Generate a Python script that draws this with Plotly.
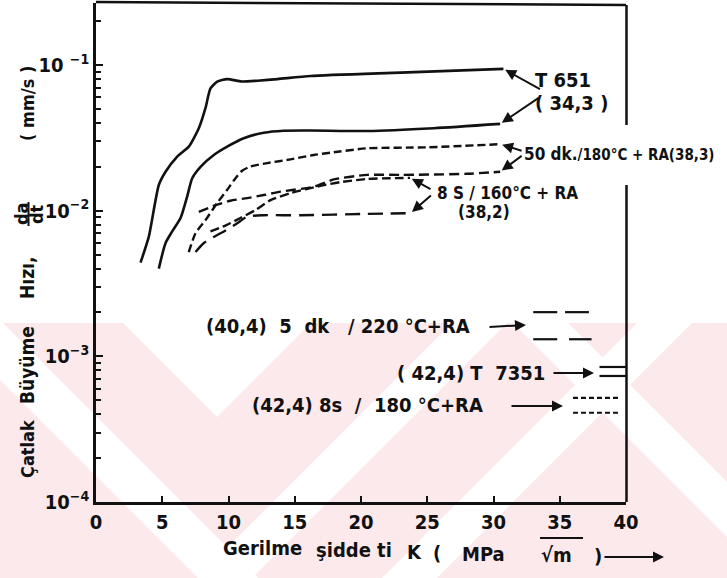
import numpy as np
import plotly.graph_objects as go

# Crack growth rate da/dt (mm/s) versus stress intensity K (MPa*sqrt(m))
k_t651_a = [3.36, 3.98, 4.74, 5.25, 6.13, 7.0, 7.76, 8.26, 8.64, 9.15, 9.9, 11.0, 12.2, 13.7, 16.2, 23.0, 30.75]
v_t651_a = [0.0044, 0.0066, 0.0150, 0.0185, 0.0235, 0.0275, 0.0368, 0.0505, 0.069, 0.0768, 0.080, 0.0770, 0.078, 0.080, 0.084, 0.0886, 0.094]

k_t651_b = [4.74, 5.25, 5.75, 6.38, 6.88, 7.26, 7.89, 8.89, 9.9, 11.15, 12.66, 14.17, 16.2, 20.5, 25.5, 30.5]
v_t651_b = [0.0040, 0.0060, 0.0072, 0.0089, 0.0125, 0.0167, 0.0200, 0.0241, 0.0275, 0.0314, 0.0343, 0.0354, 0.0355, 0.0352, 0.0368, 0.0394]

k_50dk_a = [7.0, 7.51, 8.26, 9.15, 9.9, 10.53, 11.03, 11.66, 12.92, 14.68, 16.44, 17.7, 20.47, 25.0, 30.5]
v_50dk_a = [0.0052, 0.0070, 0.0086, 0.0113, 0.0139, 0.0167, 0.0188, 0.0201, 0.0212, 0.0225, 0.0241, 0.025, 0.0268, 0.0272, 0.0286]

k_50dk_b = [7.76, 9.02, 10.15, 11.41, 12.66, 13.92, 16.44, 17.95, 20.47, 23.0, 28.0, 30.5]
v_50dk_b = [0.0098, 0.0109, 0.0117, 0.0122, 0.0128, 0.0135, 0.0146, 0.0164, 0.0176, 0.0176, 0.0179, 0.0185]

k_8s_a = [8.64, 9.77, 10.9, 12.04, 13.17, 14.68, 16.94, 18.45, 20.47, 23.7]
v_8s_a = [0.0072, 0.0079, 0.0089, 0.0101, 0.0118, 0.0132, 0.0148, 0.0157, 0.0165, 0.0168]

k_8s_b = [7.51, 8.14, 8.89, 9.65, 10.66, 11.41, 12.66, 15.4, 20.47, 23.73]
v_8s_b = [0.0052, 0.0060, 0.0066, 0.0072, 0.0082, 0.0091, 0.0093, 0.0093, 0.0095, 0.0096]

x_ticks = [0, 5, 10, 15, 20, 25, 30, 35, 40]
y_ticks = [1e-4, 1e-3, 1e-2, 1e-1]
y_tick_text = ["10<sup>−4</sup>", "10<sup>−3</sup>", "10<sup>−2</sup>", "10 <sup>−1</sup>"]

FONT = "DejaVu Sans Condensed, DejaVu Sans, sans-serif"
INK = "#111111"
PINK = "#fce9ec"

W, H = 727, 578
L, R, T, B = 96, 101, 3, 76
PW, PH = W - L - R, H - T - B


def fx(x):
    return (x - L) / PW


def fy(y):
    return (H - B - y) / PH


fig = go.Figure()

solid = dict(color=INK, width=2.6, shape="spline", smoothing=0.6)
series = [
    (k_t651_a, v_t651_a, dict(solid)),
    (k_t651_b, v_t651_b, dict(solid)),
    (k_50dk_a, v_50dk_a, dict(color=INK, width=2.4, dash="8px,4px", shape="spline", smoothing=0.6)),
    (k_50dk_b, v_50dk_b, dict(color=INK, width=2.4, dash="10px,5px", shape="spline", smoothing=0.6)),
    (k_8s_a, v_8s_a, dict(color=INK, width=2.4, dash="9px,4px", shape="spline", smoothing=0.6)),
    (k_8s_b, v_8s_b, dict(color=INK, width=2.4, dash="15px,8px", shape="spline", smoothing=0.6)),
]
for kx, vy, ln in series:
    fig.add_trace(go.Scatter(x=kx, y=vy, mode="lines", line=ln, showlegend=False, hoverinfo="skip"))

# Key samples for the three curves given only as keys
keys = [
    ([33.0, 35.0], 0.00201, "24px,6px"), ([35.4, 37.2], 0.00201, "24px,6px"),
    ([33.0, 35.0], 0.00131, "24px,6px"), ([35.7, 37.4], 0.00131, "24px,6px"),
    ([38.0, 40.0], 0.000845, None), ([38.0, 40.0], 0.000733, None),
    ([36.0, 39.5], 0.000518, "5px,3px"), ([36.0, 39.6], 0.000410, "5px,3px"),
]
for kx, vv, dsh in keys:
    ln = dict(color=INK, width=2.2)
    if dsh:
        ln["dash"] = dsh
    fig.add_trace(go.Scatter(x=kx, y=[vv, vv], mode="lines", line=ln, showlegend=False, hoverinfo="skip"))

shapes = []


def poly_path(pts):
    return "M " + " L ".join(f"{fx(a):.4f},{fy(b):.4f}" for a, b in pts) + " Z"


# faint pink watermark in the lower part of the page, crossed by white diagonal bands
shapes.append(dict(type="rect", xref="paper", yref="paper", x0=fx(0), y0=fy(578), x1=fx(727), y1=fy(323),
                   fillcolor=PINK, line=dict(width=0), layer="below"))


def band_back(c0, c1):
    # white band between the lines x - y = c0 and x - y = c1, clipped to y in [323, 578]
    return [(323 + c0, 323), (323 + c1, 323), (578 + c1, 578), (578 + c0, 578)]


def band_fwd(s0, s1):
    # white band between the lines x + y = s0 and x + y = s1
    return [(s0 - 323, 323), (s1 - 323, 323), (s1 - 578, 578), (s0 - 578, 578)]


white_polys = [
    band_back(-380, -320),
    band_back(190, 245),
    band_fwd(775, 830),
    band_fwd(960, 1015),
    [(123, 323), (311, 323), (217, 417)],
]
for pts in white_polys:
    shapes.append(dict(type="path", path=poly_path(pts), xref="paper", yref="paper",
                       fillcolor="white", line=dict(width=0), layer="below"))

# frame: top edge and the right edge, open where the 50 dk label passes
frame = dict(color=INK, width=2.5)
shapes.append(dict(type="line", xref="paper", yref="paper", x0=0, y0=fy(2), x1=fx(626), y1=fy(5), line=frame))
shapes.append(dict(type="line", xref="paper", yref="paper", x0=fx(626.5), y0=fy(5), x1=fx(626.5), y1=fy(125), line=frame))
shapes.append(dict(type="line", xref="paper", yref="paper", x0=fx(626.5), y0=fy(185), x1=fx(626.5), y1=fy(502), line=frame))
# fraction bar of da/dt and overline of the root sign
shapes.append(dict(type="line", xref="paper", yref="paper", x0=fx(28.5), y0=fy(202), x1=fx(28.5), y1=fy(226),
                   line=dict(color=INK, width=2)))
shapes.append(dict(type="line", xref="paper", yref="paper", x0=fx(540), y0=fy(538), x1=fx(583), y1=fy(538),
                   line=dict(color=INK, width=2)))

ann = []


def text(s, x, y, size=20, angle=0, xanchor="center"):
    ann.append(dict(text=s, x=fx(x), y=fy(y), xref="paper", yref="paper", showarrow=False,
                    xanchor=xanchor, yanchor="middle", textangle=angle,
                    font=dict(family=FONT, size=size, color=INK, weight="bold")))


def pointer(x0, y0, x1, y1):
    # arrow drawn in pixel space from (x0, y0) to the head at (x1, y1)
    ann.append(dict(text="", x=fx(x1), y=fy(y1), xref="paper", yref="paper",
                    ax=x0 - x1, ay=y0 - y1, showarrow=True, arrowhead=2, arrowsize=1.1,
                    arrowwidth=2, arrowcolor=INK))


def leader(kx, vy, dx, dy):
    # line from a curve's last point out to its label
    ann.append(dict(text="", x=kx[-1], y=float(np.log10(vy[-1])), xref="x", yref="y",
                    ax=dx, ay=dy, showarrow=True, arrowhead=2, arrowsize=1.1,
                    arrowwidth=2, arrowcolor=INK, standoff=2))


# y axis title, word by word along the left edge
text("Çatlak", 27, 449, size=18, angle=-90)
text("Büyüme", 27, 365, size=19, angle=-90)
text("Hızı,", 27, 278, size=19, angle=-90)
text("da", 21, 214, size=18, angle=-90)
text("dt", 36, 214, size=18, angle=-90)
text("( mm/s )", 28, 104, size=18, angle=-90)

# x axis title
text("Gerilme", 262, 548, size=20)
text("şidde ti", 354, 550, size=20)
text("K", 414, 552, size=20)
text("(", 437, 553, size=20)
text("MPa", 483, 554, size=20)
text("√m", 556, 555, size=20)
text(")", 598, 556, size=20)
pointer(603, 557, 664, 557)

# curve labels
text("T 651", 563, 80, size=20)
text("( 34,3 )", 571, 103, size=20)
leader(k_t651_a, v_t651_a, 38, 21)
leader(k_t651_b, v_t651_b, 40, -27)

text("<span style='font-size:17px'>50 dk.</span>/180°C + RA(38,3)", 522, 154, size=15, xanchor="left")
leader(k_50dk_a, v_50dk_a, 23, 7)
leader(k_50dk_b, v_50dk_b, 23, -17)

text("8 S / 160°C + RA", 435, 193, size=17, xanchor="left")
text("(38,2)", 484, 212, size=17)
leader(k_8s_a, v_8s_a, 22, 12)
leader(k_8s_b, v_8s_b, 22, -19)

text("(40,4)  5  dk   / 220 °C+RA", 204, 326, size=20, xanchor="left")
pointer(488, 327, 526, 325)
text("( 42,4) T  7351", 395, 373, size=20, xanchor="left")
pointer(552, 373, 594, 373)
text("(42,4) 8s  /  180 °C+RA", 250, 405, size=20, xanchor="left")
pointer(510, 406, 563, 406)

tick_font = dict(family=FONT, size=20, color=INK, weight="bold")
fig.update_layout(
    width=W, height=H,
    margin=dict(l=L, r=R, t=T, b=B),
    paper_bgcolor="white", plot_bgcolor="rgba(0,0,0,0)",
    shapes=shapes, annotations=ann,
    font=dict(family=FONT, size=18, color=INK),
    xaxis=dict(range=[0, 40], tickvals=x_ticks, ticks="inside", ticklen=6, tickwidth=2,
               tickcolor=INK, showline=True, linewidth=2.6, linecolor=INK, showgrid=False,
               zeroline=False, tickfont=tick_font),
    yaxis=dict(type="log", range=[-4, -0.5745], tickvals=y_ticks, ticktext=y_tick_text,
               ticks="inside", ticklen=7, tickwidth=2, tickcolor=INK, showline=True,
               linewidth=2.6, linecolor=INK, showgrid=False, zeroline=False,
               tickfont=tick_font,
               minor=dict(ticks="inside", ticklen=5, tickwidth=2, tickcolor=INK, showgrid=False,
                          tickvals=[m * 10.0 ** e for e in range(-4, 0) for m in range(2, 10)])),
)

fig.write_html("out.html")
